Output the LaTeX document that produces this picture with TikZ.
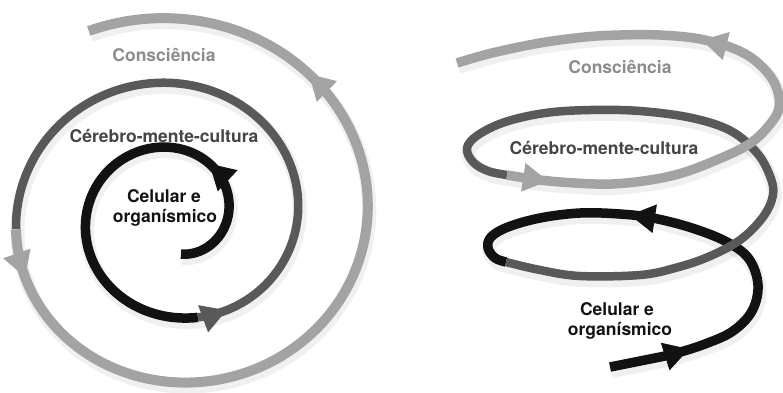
\documentclass[tikz,border=0pt]{standalone}
\usepackage{fontspec}
\setmainfont{TeX Gyre Heros}
\usetikzlibrary{calc}

\definecolor{pale}{HTML}{A3A3A3}
\definecolor{mid}{HTML}{595959}
\definecolor{ink}{HTML}{121212}
\definecolor{paletext}{HTML}{8C8C8C}
\definecolor{midtext}{HTML}{454545}

\tikzset{
  band/.style={line width=#1, line cap=butt, line join=round},
  band/.default=9pt,
  softshade/.style={line width=#1, draw=black, opacity=0.06, line cap=butt,
    transform canvas={xshift=1.5pt,yshift=-4pt}},
  label/.style={font=\bfseries\fontsize{17.5}{21}\selectfont, inner sep=0pt, anchor=base},
}

% filled arrowhead: colour, tip point, a point just behind the tip on the curve
\newcommand\headtip[3]{%
  \fill[#1] (#2) -- ($(#2)!25pt!(#3)!14.5pt!90:(#2)$) -- ($(#2)!25pt!(#3)!14.5pt!-90:(#2)$) -- cycle;}

% right-hand helix, one piece per colour
\def\helixInk{plot[smooth,tension=0.6] coordinates {(610,367) (640,361) (673,354) (705,344) (733,331) (752,311) (758,285) (749,259) (727,242) (692,228) (653,218) (620,214) (580,213) (540,218) (508,227) (491,237) (488,248) (495,258) (506,262)}}
\def\helixMid{plot[smooth,tension=0.6] coordinates {(506,262) (540,270) (580,276) (640,275) (675,268) (708,257) (740,240) (763,217) (773,195) (770,176) (757,153) (731,131) (692,118) (640,111) (590,110) (545,113) (505,122) (478,135) (467,148) (473,162) (488,171) (507,175)}}
\def\helixPale{plot[smooth,tension=0.6] coordinates {(507,175) (540,180) (575,183) (612,184) (650,180) (682,173) (714,161) (746,146) (766,129) (779,108) (775,84) (758,63) (735,49) (700,39) (660,35) (620,35) (585,37) (540,43) (492,53) (457,63)}}

\begin{document}
\begin{tikzpicture}[x=1pt,y=-1pt,
  declare function={
    sx(\t)=174.5+(53.5+11.1*\t)*cos(deg(\t));
    sy(\t)=216.5-(52.5+10.3*\t)*sin(deg(\t));
  }]
\useasboundingbox (0,0) rectangle (783,392);

% ---------- flat spiral (left) ----------
\draw[softshade=14pt] plot[domain=-1.4:14.55, samples=400, variable=\t] ({sx(\t)},{sy(\t)});
\draw[ink, band=9.5pt] plot[domain=-1.4:4.93,  samples=160, variable=\t] ({sx(\t)},{sy(\t)});
\draw[mid, band=8.5pt] plot[domain=4.93:9.51,  samples=160, variable=\t] ({sx(\t)},{sy(\t)});
\draw[pale, band=10pt] plot[domain=9.51:14.55, samples=200, variable=\t] ({sx(\t)},{sy(\t)});

\coordinate (la1) at ({sx(1.0)},{sy(1.0)});     \coordinate (lb1) at ({sx(0.94)},{sy(0.94)});
\coordinate (la2) at ({sx(5.2)},{sy(5.2)});     \coordinate (lb2) at ({sx(5.15)},{sy(5.15)});
\coordinate (la3) at ({sx(9.83)},{sy(9.83)});   \coordinate (lb3) at ({sx(9.79)},{sy(9.79)});
\coordinate (la4) at ({sx(13.41)},{sy(13.41)}); \coordinate (lb4) at ({sx(13.37)},{sy(13.37)});
\headtip{ink}{la1}{lb1}
\headtip{mid}{la2}{lb2}
\headtip{pale}{la3}{lb3}
\headtip{pale}{la4}{lb4}

\node[label, text=paletext] (consL) at (164,61) {Consciência};
\node[label, text=midtext]  (cerL)  at (164,142) {Cérebro-mente-cultura};
\node[label, text=ink]      (celLa) at (164,202) {Celular e};
\node[label, text=ink]      (celLb) at (165,222) {organísmico};

% ---------- helix (right) ----------
\draw[softshade=14pt] \helixInk;
\draw[softshade=14pt] \helixMid;
\draw[softshade=14pt] \helixPale;
\draw[ink, band=9.5pt]  \helixInk;
\draw[mid, band=8.5pt]  \helixMid;
\draw[pale, band=9.5pt] \helixPale;

\coordinate (ra1) at (689,349); \coordinate (rb1) at (670,355);
\coordinate (ra2) at (630,215); \coordinate (rb2) at (650,218);
\coordinate (ra3) at (548,181); \coordinate (rb3) at (528,178);
\coordinate (ra4) at (702,40);  \coordinate (rb4) at (722,45);
\headtip{ink}{ra1}{rb1}
\headtip{ink}{ra2}{rb2}
\headtip{pale}{ra3}{rb3}
\headtip{pale}{ra4}{rb4}

\node[label, text=paletext] (consR) at (620,73) {Consciência};
\node[label, text=midtext]  (cerR)  at (604,154) {Cérebro-mente-cultura};
\node[label, text=ink]      (celRa) at (617,315) {Celular e};
\node[label, text=ink]      (celRb) at (620,335) {organísmico};
\end{tikzpicture}
\end{document}
